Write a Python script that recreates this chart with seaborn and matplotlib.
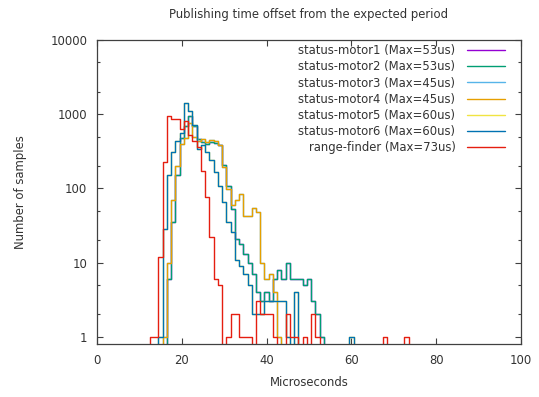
import numpy as np
import pandas as pd
import matplotlib
matplotlib.use("Agg")
import matplotlib.pyplot as plt
import seaborn as sns

# Histogram bins (1 us wide, centred on whole microseconds)
bins = list(range(11, 76))

# Sample counts per bin, keyed by bin centre; missing bins are empty
range_finder = {13: 1, 14: 1, 15: 12, 16: 226, 17: 960, 18: 850, 19: 870, 20: 640,
                21: 800, 22: 520, 23: 430, 24: 360, 25: 174, 26: 76, 27: 22, 28: 6,
                29: 5, 31: 1, 32: 2, 33: 2, 34: 1, 35: 1, 36: 1, 38: 3, 39: 2, 40: 2,
                41: 2, 42: 1, 45: 2, 46: 1, 47: 1, 49: 1, 51: 2, 52: 1, 68: 1, 73: 1}
status_motor6 = {15: 1, 16: 28, 17: 150, 18: 306, 19: 440, 20: 560, 21: 1400, 22: 1100,
                 23: 720, 24: 343, 25: 390, 26: 307, 27: 238, 28: 165, 29: 109, 30: 65,
                 31: 35, 32: 26, 33: 11, 34: 9, 35: 7, 36: 5, 37: 2, 38: 2, 39: 2,
                 40: 3, 41: 3, 42: 3, 43: 3, 44: 3, 45: 1, 47: 4, 60: 1}
status_motor5 = status_motor6
status_motor2 = {17: 6, 18: 35, 19: 153, 20: 480, 21: 700, 22: 940, 23: 690, 24: 465,
                 25: 420, 26: 400, 27: 420, 28: 410, 29: 380, 30: 204, 31: 107, 32: 53,
                 33: 21, 34: 18, 35: 13, 36: 10, 37: 7, 38: 4, 39: 3, 40: 4, 41: 3,
                 42: 6, 43: 8, 44: 6, 45: 10, 46: 6, 47: 6, 48: 6, 49: 5, 50: 6,
                 51: 3, 52: 2, 53: 1}
status_motor1 = status_motor2
status_motor4 = {16: 1, 17: 10, 18: 70, 19: 200, 20: 400, 21: 480, 22: 750, 23: 500,
                 24: 430, 25: 465, 26: 420, 27: 450, 28: 440, 29: 390, 30: 194, 31: 99,
                 32: 59, 33: 69, 34: 85, 35: 43, 36: 43, 37: 55, 38: 48, 39: 10, 40: 6,
                 41: 7, 42: 4, 43: 1}
status_motor3 = status_motor4

labels = ["status-motor1 (Max=53us)", "status-motor2 (Max=53us)",
          "status-motor3 (Max=45us)", "status-motor4 (Max=45us)",
          "status-motor5 (Max=60us)", "status-motor6 (Max=60us)",
          "range-finder (Max=73us)"]
series = [status_motor1, status_motor2, status_motor3, status_motor4,
          status_motor5, status_motor6, range_finder]
colors = ["#9400d3", "#009e73", "#56b4e9", "#e69f00", "#f0e442", "#0072b2", "#e51e10"]

sns.set_theme(style="ticks")
plt.rcParams["font.family"] = ["DejaVu Sans"]
text_color = "#333333"
fs = 8.4

fig = plt.figure(figsize=(5.39, 3.97), dpi=100)
ax = fig.add_axes([0.180, 0.1335, 0.7866, 0.7657])

for lab, data, col in zip(labels, series, colors):
    df = pd.DataFrame({"us": bins, "count": [data.get(b, 0) for b in bins]})
    sns.lineplot(data=df, x="us", y="count", ax=ax, color=col, lw=1.0,
                 drawstyle="steps-mid", label=lab, estimator=None)

ax.set_yscale("log", nonpositive="clip")
ax.set_xlim(0, 100)
ax.set_ylim(0.8, 10000)
ax.set_xticks([0, 20, 40, 60, 80, 100])
ax.set_yticks([1, 10, 100, 1000, 10000])
ax.set_yticklabels(["1", "10", "100", "1000", "10000"])
ax.yaxis.set_minor_locator(matplotlib.ticker.LogLocator(base=10, subs=(2.0, 5.0)))
ax.yaxis.set_minor_formatter(matplotlib.ticker.NullFormatter())
ax.tick_params(which="both", direction="in", top=True, right=True, colors="#404040",
               labelcolor=text_color, labelsize=fs, width=0.8)
ax.tick_params(which="major", length=4, pad=7)
ax.tick_params(which="minor", length=2)
for s in ax.spines.values():
    s.set_color("#404040")
    s.set_linewidth(0.9)

ax.set_xlabel("Microseconds", fontsize=fs, color=text_color, labelpad=7)
ax.set_ylabel("Number of samples", fontsize=fs, color=text_color, labelpad=17)
fig.text(0.5725, 0.964, "Publishing time offset from the expected period",
         ha="center", va="center", fontsize=fs, color=text_color)

leg = ax.legend(loc="upper right", bbox_to_anchor=(0.9623, 0.986), frameon=False,
                fontsize=fs, markerfirst=False, handlelength=3.25, labelspacing=0.27,
                borderaxespad=0.0, borderpad=0.0, handletextpad=1.0)
for t in leg.get_texts():
    t.set_color(text_color)
    t.set_ha("right")

fig.savefig("out.png", dpi=100)
